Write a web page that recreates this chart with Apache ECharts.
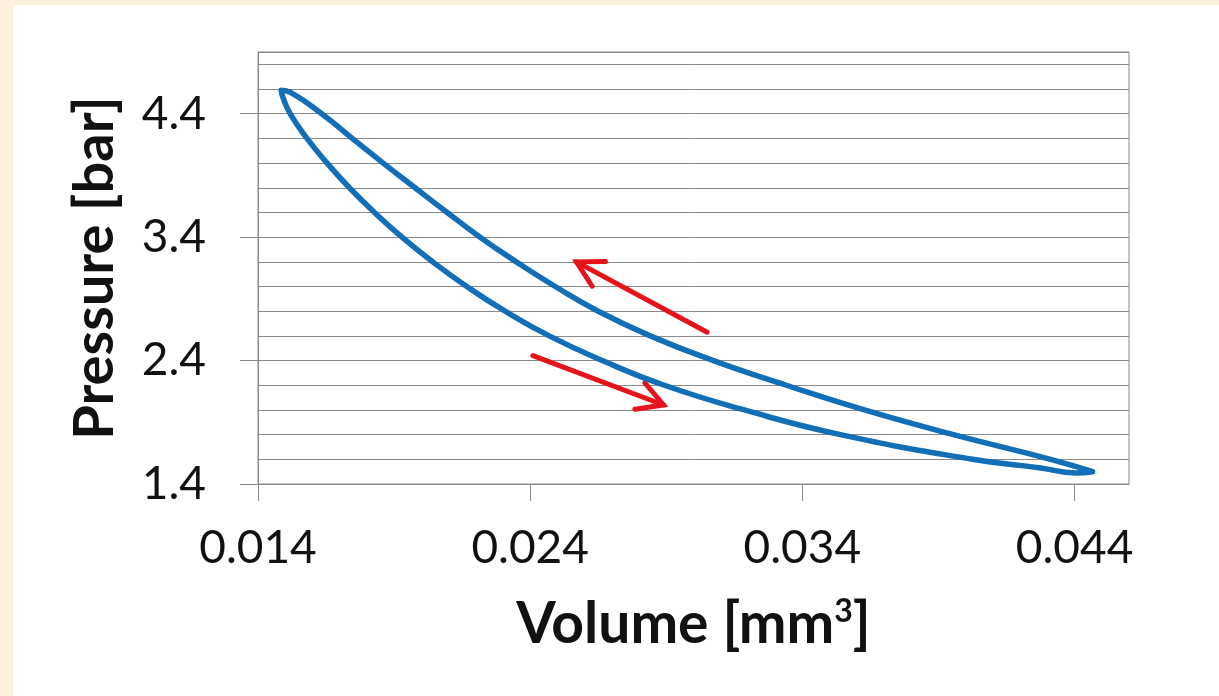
<!DOCTYPE html>
<html><head><meta charset="utf-8">
<script src="https://cdn.jsdelivr.net/npm/echarts@6/dist/echarts.min.js"></script>
<style>
html,body{margin:0;padding:0;width:1219px;height:696px;background:#fdf1de;overflow:hidden;}
#c{position:absolute;left:13px;top:5px;width:1206px;height:691px;background:#ffffff;}
</style></head><body><div id="c"></div>
<script>
// Compression branch (right tip -> left tip)
const upperVolume = [0.04466, 0.04312, 0.03955, 0.03628, 0.03341, 0.03073, 0.02841, 0.02650, 0.02492, 0.02349, 0.02216, 0.02095, 0.01977, 0.01860, 0.01746, 0.01634, 0.01521, 0.01485];
const upperPressure = [1.50, 1.60, 1.80, 2.00, 2.20, 2.40, 2.60, 2.80, 3.00, 3.20, 3.40, 3.60, 3.80, 4.00, 4.20, 4.40, 4.57, 4.59];
// Expansion branch (left tip -> right tip)
const lowerVolume = [0.01492, 0.01518, 0.01580, 0.01654, 0.01736, 0.01828, 0.01929, 0.02042, 0.02167, 0.02308, 0.02470, 0.02665, 0.02893, 0.03187, 0.03540, 0.04025, 0.04275, 0.04404, 0.04466];
const lowerPressure = [4.53, 4.40, 4.20, 4.00, 3.80, 3.60, 3.40, 3.20, 3.00, 2.80, 2.60, 2.40, 2.20, 2.00, 1.80, 1.60, 1.53, 1.49, 1.50];
// Direction arrows [tailVolume, tailPressure, headVolume, headPressure]
const compressionArrow = [0.0305, 2.63, 0.0257, 3.20];
const expansionArrow = [0.0241, 2.44, 0.0289, 2.04];
// Axis ticks
const volumeTicks = [0.014, 0.024, 0.034, 0.044];
const pressureTicks = [1.4, 2.4, 3.4, 4.4];
const volumeRange = [0.014, 0.046];
const pressureRange = [1.4, 4.9];
const pressureMinorStep = 0.2;

const loop = [];
upperVolume.forEach((v, i) => loop.push([v, upperPressure[i]]));
lowerVolume.forEach((v, i) => loop.push([v, lowerPressure[i]]));

const axisGray = '#8a8a8a';
const font = 'Lato';
const chart = echarts.init(document.getElementById('c'), null, {renderer: 'canvas'});
chart.setOption({
  animation: false,
  grid: {left: 245, top: 47, right: 90, bottom: 212, show: true, borderColor: axisGray, borderWidth: 1, backgroundColor: 'transparent'},
  xAxis: {
    type: 'value', min: volumeRange[0], max: volumeRange[1],
    splitLine: {show: false},
    axisLine: {show: true, lineStyle: {color: axisGray, width: 1}},
    axisTick: {show: true, customValues: volumeTicks, length: 17, lineStyle: {color: axisGray, width: 1}},
    axisLabel: {customValues: volumeTicks, formatter: v => Number(v).toFixed(3), fontSize: 46, fontFamily: font, color: '#111', margin: 41},
    name: 'Volume [mm{sup|3}]', nameLocation: 'middle', nameGap: 112,
    nameTextStyle: {fontSize: 57, fontWeight: 'bold', fontFamily: font, color: '#111',
      rich: {sup: {fontSize: 32, fontWeight: 'bold', fontFamily: font, color: '#111', verticalAlign: 'top'}}}
  },
  yAxis: [{
    type: 'value', min: pressureRange[0], max: pressureRange[1], interval: pressureMinorStep,
    axisLine: {show: false}, axisTick: {show: false}, axisLabel: {show: false},
    splitLine: {show: true, lineStyle: {color: axisGray, width: 1}}
  }, {
    type: 'value', min: pressureRange[0], max: pressureRange[1], position: 'left',
    splitLine: {show: false},
    axisLine: {show: true, lineStyle: {color: axisGray, width: 1}},
    axisTick: {show: true, customValues: pressureTicks, length: 18, lineStyle: {color: axisGray, width: 1}},
    axisLabel: {customValues: pressureTicks, formatter: v => Number(v).toFixed(1), fontSize: 46, fontFamily: font, color: '#111', margin: 52},
    name: 'Pressure [bar]', nameLocation: 'middle', nameGap: 135,
    nameTextStyle: {fontSize: 56, fontWeight: 'bold', fontFamily: font, color: '#111'}
  }],
  series: [{
    type: 'line', yAxisIndex: 0, data: loop, smooth: 0.5, showSymbol: false, symbol: 'none',
    lineStyle: {color: '#116eb7', width: 5.5, cap: 'round', join: 'round'}
  }, {
    type: 'custom', yAxisIndex: 0,
    data: [compressionArrow, expansionArrow],
    encode: {x: [0, 2], y: [1, 3]},
    renderItem: function (params, api) {
      const a = api.coord([api.value(0), api.value(1)]);
      const b = api.coord([api.value(2), api.value(3)]);
      const ang = Math.atan2(a[1] - b[1], a[0] - b[0]);
      const L = 29, spread = 29 * Math.PI / 180;
      const p1 = [b[0] + L * Math.cos(ang + spread), b[1] + L * Math.sin(ang + spread)];
      const p2 = [b[0] + L * Math.cos(ang - spread), b[1] + L * Math.sin(ang - spread)];
      const st = {stroke: '#e5141c', lineWidth: 5, fill: null, lineCap: 'round', lineJoin: 'miter'};
      return {type: 'group', children: [
        {type: 'line', shape: {x1: a[0], y1: a[1], x2: b[0], y2: b[1]}, style: st},
        {type: 'polyline', shape: {points: [p1, b, p2]}, style: st}
      ]};
    }
  }]
});
</script></body></html>
